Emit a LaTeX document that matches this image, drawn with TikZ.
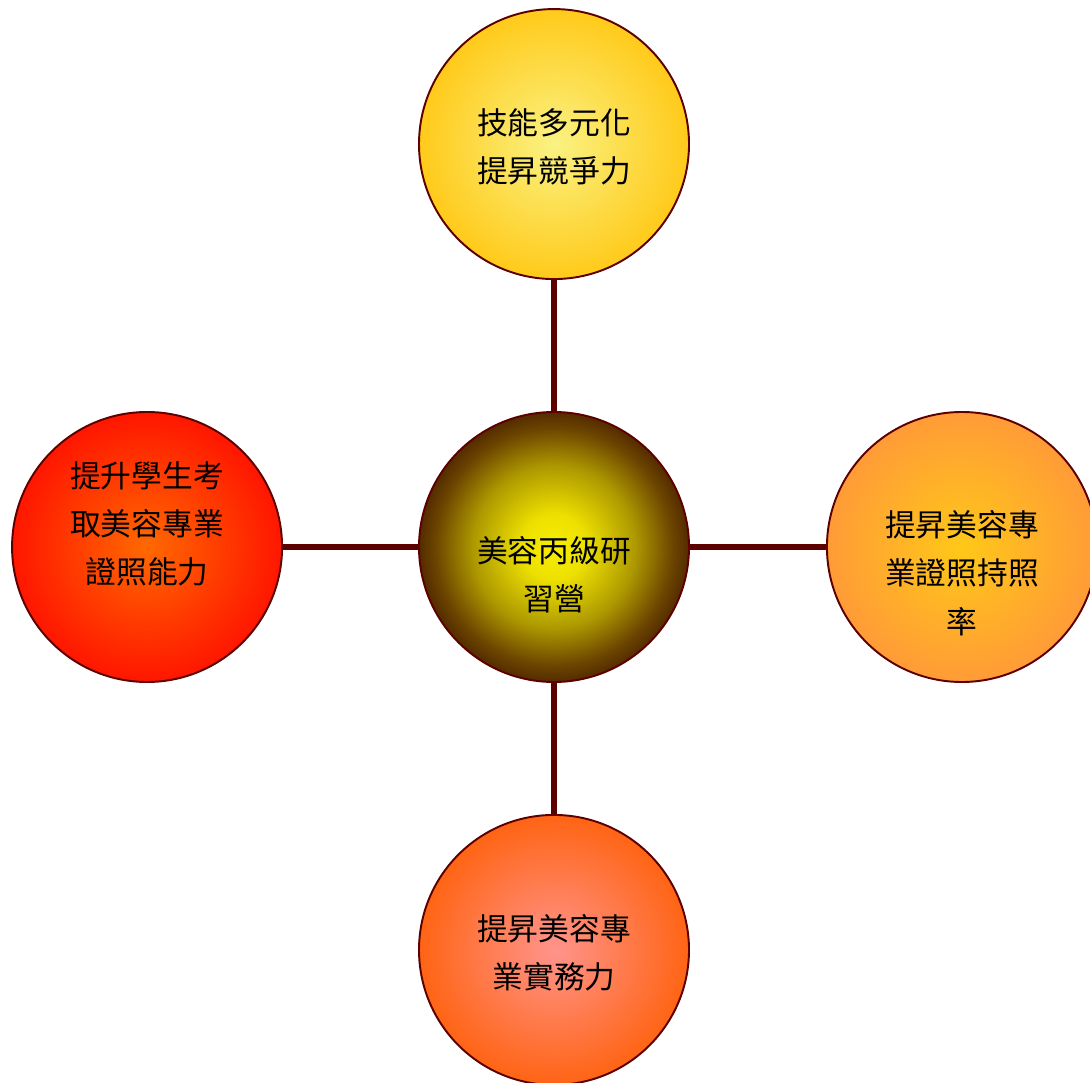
\documentclass[tikz,border=0pt]{standalone}
\usepackage{fontspec}
\usepackage{xcolor}
\usetikzlibrary{positioning}
\newfontfamily\cjk{Noto Sans CJK TC}
\definecolor{rim}{HTML}{5C0000}
\pgfdeclareradialshading{hubglow}{\pgfpoint{0bp}{0bp}}{rgb(0bp)=(0.97,0.93,0);rgb(6bp)=(0.93,0.88,0);rgb(15bp)=(0.68,0.6,0);rgb(22bp)=(0.42,0.27,0);rgb(25bp)=(0.33,0.17,0);rgb(50bp)=(0.33,0.17,0)}

\begin{document}
\begin{tikzpicture}
        \tikzset{bubble/.style={circle,draw=rim,line width=1.1pt,minimum size=5.4cm,inner sep=0pt},
            caption/.style={align=center,font=\cjk\fontsize{17.5}{27.5}\selectfont},
            spoke/.style={draw=rim,line width=3.2pt},
            node distance=2.66cm}
        \useasboundingbox (0,0) rectangle (21.8,21.64);
        \node[bubble,shading=hubglow] (hub) at (11.08,10.7) {};
        \node[bubble,above=2.62cm of hub,inner color={rgb,255:red,250;green,242;blue,130},outer color={rgb,255:red,255;green,202;blue,26}] (skill) {};
        \node[bubble,left=2.7cm of hub,inner color={rgb,255:red,255;green,105;blue,0},outer color={rgb,255:red,255;green,22;blue,0}] (exam) {};
        \node[bubble,right=2.72cm of hub,inner color={rgb,255:red,255;green,200;blue,25},outer color={rgb,255:red,255;green,155;blue,55}] (rate) {};
        \node[bubble,below=2.62cm of hub,inner color={rgb,255:red,255;green,148;blue,140},outer color={rgb,255:red,255;green,100;blue,20}] (practice) {};
        \draw[spoke] (hub) -- (skill);
        \draw[spoke] (hub) -- (exam);
        \draw[spoke] (hub) -- (rate);
        \draw[spoke] (hub) -- (practice);
        \node[caption] (hubtext) at ([yshift=-0.56cm]hub) {美容丙級研\\習營};
        \node[caption] (skilltext) at ([yshift=-0.06cm]skill) {技能多元化\\提昇競爭力};
        \node[caption] (examtext) at ([yshift=0.46cm]exam) {提升學生考\\取美容專業\\證照能力};
        \node[caption] (ratetext) at ([yshift=-0.52cm]rate) {提昇美容專\\業證照持照\\率};
        \node[caption] (practicetext) at ([yshift=-0.06cm]practice) {提昇美容專\\業實務力};
    \end{tikzpicture}
\end{document}
